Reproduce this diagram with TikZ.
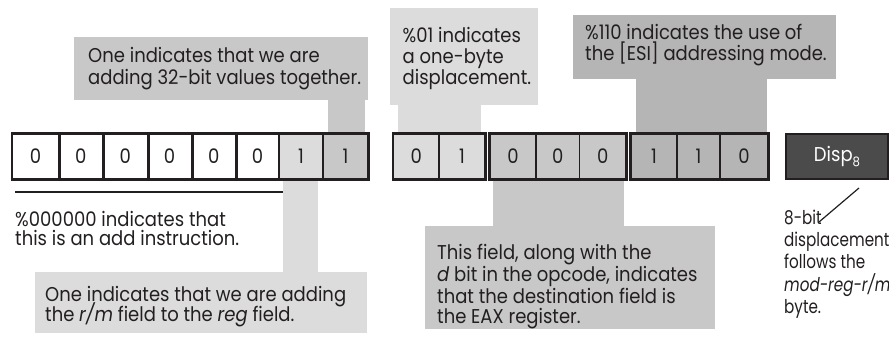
\documentclass[tikz,border=0pt]{standalone}
\usepackage{fontspec}
\setmainfont{Poppins}[FakeStretch=0.9]
\newfontfamily\rcfont{Poppins}[FakeStretch=0.8]
\definecolor{gA}{HTML}{DCDCDC}
\definecolor{gB}{HTML}{C8C8C8}
\definecolor{gC}{HTML}{B5B5B5}
\definecolor{gD}{HTML}{4B4B4B}
\definecolor{ink}{HTML}{231F20}
\tikzset{
  cell/.style={draw=ink, line width=1.3pt, minimum height=45pt, inner sep=0pt, text=ink},
  txt/.style={anchor=base west, inner sep=0pt, text=ink},
  rtxt/.style={txt, font=\rcfont\fontsize{19}{21.5}\selectfont},
  sepline/.style={draw=ink, line width=2.8pt},
  outline/.style={draw=ink, line width=2pt}
}
\begin{document}
\begin{tikzpicture}[x=1pt,y=-1pt,font=\fontsize{20}{21.5}\selectfont]
\useasboundingbox (0,0) rectangle (889,339);
% callouts (background)
\fill[gB] (74,37) rectangle (368,100);
\fill[gB] (328,100) rectangle (365,134);
\fill[gA] (390,8) rectangle (538,105);
\fill[gA] (398,105) rectangle (481,134);
\fill[gC] (573,15) rectangle (836,79);
\fill[gC] (636,79) rectangle (767,134);
\fill[gA] (283,179) rectangle (318,272);
\fill[gA] (35,272) rectangle (367,333);
\fill[gB] (493,179) rectangle (624,226);
\fill[gB] (425,226) rectangle (715,329);
% byte 1
\node[cell, fill=white, minimum width=46pt]   (b0) at (35.5,156.5) {0};
\node[cell, fill=white, minimum width=44.5pt] (b1) at (80.75,156.5) {0};
\node[cell, fill=white, minimum width=44.5pt] (b2) at (125.25,156.5) {0};
\node[cell, fill=white, minimum width=44pt]   (b3) at (169.5,156.5) {0};
\node[cell, fill=white, minimum width=44.5pt] (b4) at (213.75,156.5) {0};
\node[cell, fill=white, minimum width=43pt]   (b5) at (257.5,156.5) {0};
\node[cell, fill=gA, minimum width=44pt]      (b6) at (301,156.5) {1};
\node[cell, fill=gB, minimum width=45pt]      (b7) at (345.5,156.5) {1};
\foreach \c in {b0,b1,b2,b3,b4}{\draw[sepline] (\c.north east) -- (\c.south east);}
\draw[outline] (b0.north west) rectangle (b7.south east);
% byte 2: mod
\node[cell, fill=gA, minimum width=45.5pt] (m0) at (416.25,156.5) {0};
\node[cell, fill=gA, minimum width=46pt]   (m1) at (462,156.5) {1};
\draw[outline] (m0.north west) rectangle (m1.south east);
% reg
\node[cell, fill=gB, minimum width=46pt]   (r0) at (513,156.5) {0};
\node[cell, fill=gB, minimum width=43.5pt] (r1) at (557.75,156.5) {0};
\node[cell, fill=gB, minimum width=46.5pt] (r2) at (602.75,156.5) {0};
\draw[outline] (r0.north west) rectangle (r2.south east);
% r/m
\node[cell, fill=gC, minimum width=46pt]   (s0) at (654,156.5) {1};
\node[cell, fill=gC, minimum width=43pt]   (s1) at (698.5,156.5) {1};
\node[cell, fill=gC, minimum width=48pt]   (s2) at (744,156.5) {0};
\draw[outline] (s0.north west) rectangle (s2.south east);
% disp
\node[cell, fill=gD, text=white, minimum width=102pt, line width=2pt] (disp) at (837,156.5)
  {Disp\raisebox{-0.5ex}{\fontsize{13}{13}\selectfont 8}};
% rule under opcode
\coordinate (ruleL) at (15,192);
\coordinate (ruleR) at (283,192);
\draw[ink, line width=1.8pt] (ruleL) -- (ruleR);
% slash
\coordinate (slA) at (819,222);
\coordinate (slB) at (859,188);
\draw[ink, line width=1.2pt] (slA) -- (slB);
% texts
\node[txt] (ta1) at (88,63) {One indicates that we are};
\node[txt] (ta2) at (88,85) {adding 32-bit values together.};
\node[txt] (tb1) at (402.5,43) {\%01 indicates};
\node[txt] (tb2) at (402.5,64) {a one-byte};
\node[txt] (tb3) at (402.5,85) {displacement.};
\node[txt] (tc1) at (585,40) {\%110 indicates the use of};
\node[txt] (tc2) at (585,61) {the [ESI] addressing mode.};
\node[txt] (td1) at (15,226) {\%000000 indicates that};
\node[txt] (td2) at (15,245.5) {this is an add instruction.};
\node[txt] (te1) at (45,301.5) {One indicates that we are adding};
\node[txt] (te2) at (45,321.5) {the \textit{r/m} field to the \textit{reg} field.};
\node[txt] (tf1) at (437,260) {This field, along with the};
\node[txt] (tf2) at (437,281.5) {\textit{d} bit in the opcode, indicates};
\node[txt] (tf3) at (437,303) {that the destination field is};
\node[txt] (tf4) at (437,323) {the EAX register.};
\node[rtxt] (tg1) at (784,225) {8-bit};
\node[rtxt] (tg2) at (784,247) {displacement};
\node[rtxt] (tg3) at (784,269) {follows the};
\node[rtxt] (tg4) at (784,291) {\textit{mod-reg-r/m}};
\node[rtxt] (tg5) at (784,313) {byte.};
\end{tikzpicture}
\end{document}
